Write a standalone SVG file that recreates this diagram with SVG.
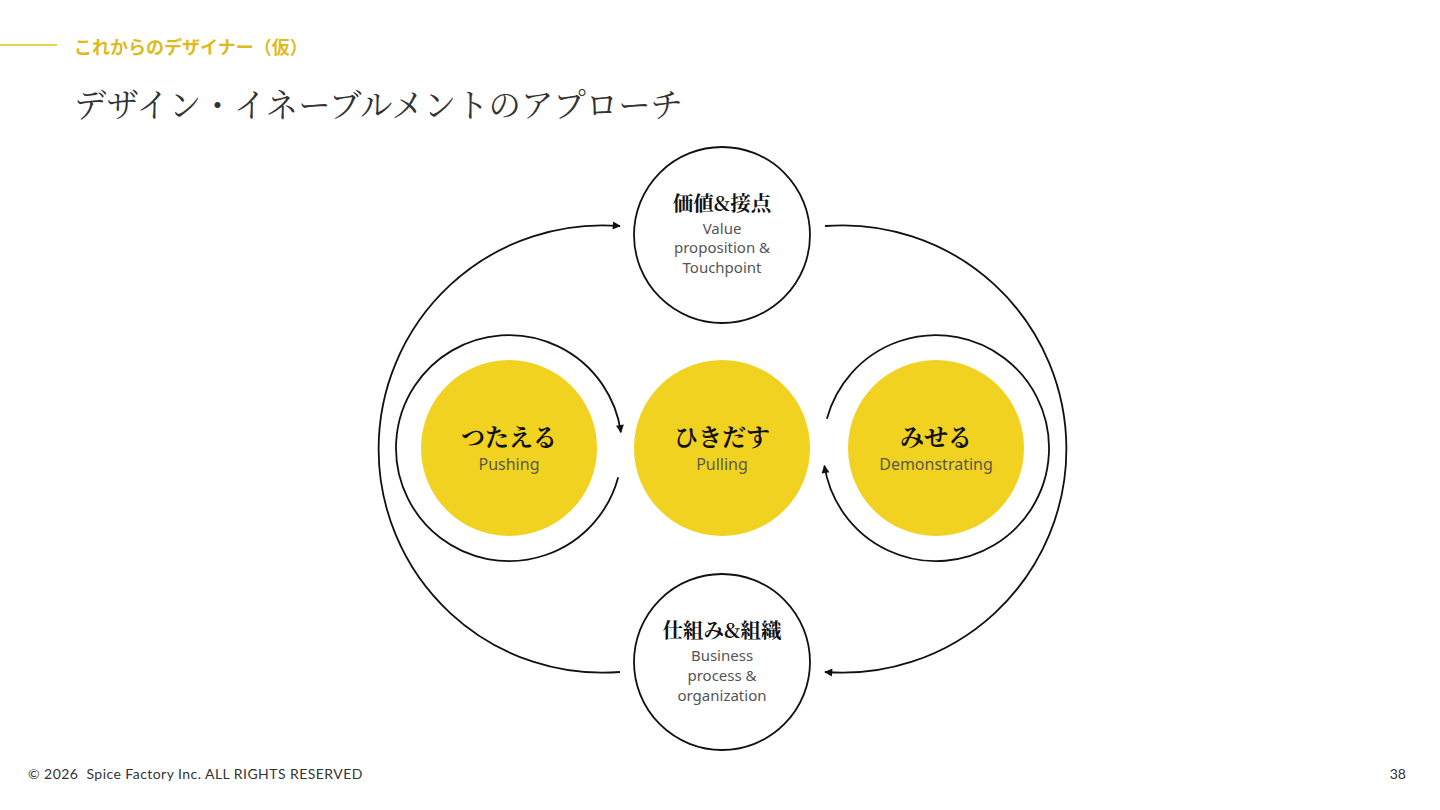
<svg xmlns="http://www.w3.org/2000/svg" width="1440" height="810" viewBox="0 0 1440 810">
<defs>
<style>
.jp{font-family:"Noto Serif CJK JP","Noto Sans CJK JP",serif;fill:#111;font-weight:700;text-anchor:middle}
.en{font-family:"Noto Sans","Open Sans",sans-serif;fill:#555;font-size:15px;text-anchor:middle}
.en2{font-family:"Noto Sans","Open Sans",sans-serif;fill:#5a5a4a;font-size:16px;text-anchor:middle}
.ring{fill:#fff;stroke:#111;stroke-width:1.8}
.sun{fill:#F1D220}
.arc{fill:none;stroke:#111;stroke-width:1.8;marker-end:url(#ah)}
</style>
<marker id="ah" viewBox="0 0 10 10" refX="9" refY="5" markerWidth="9" markerHeight="8" markerUnits="userSpaceOnUse" orient="auto">
<path d="M0,0 L10,5 L0,10 z" fill="#111"/>
</marker>
</defs>
<rect width="1440" height="810" fill="#fff"/>
<g id="header">
<line x1="0" y1="45" x2="57" y2="45" stroke="#E2C21E" stroke-width="1.5"/>
<text x="74" y="54" font-family="'Noto Sans CJK JP',sans-serif" font-size="18" font-weight="700" fill="#DDBB1C">これからのデザイナー（仮）</text>
<text x="74" y="117" font-family="'Noto Serif CJK JP','Noto Sans CJK JP',serif" font-size="32.4" fill="#333">デザイン・イネーブルメントのアプローチ</text>
</g>
<g id="connectors">
<path class="arc" d="M618.2,477.2 A113,113 0 1 1 620.9,432.3"/>
<path class="arc" d="M826.9,418.8 A113,113 0 1 1 824.4,465.7"/>
<path class="arc" d="M620,672 A223.7,223.7 0 1 1 620,226"/>
<path class="arc" d="M825,226 A223.7,223.7 0 1 1 825,672"/>
</g>
<g id="node-top">
<circle class="ring" cx="722" cy="235" r="88"/>
<text class="jp" x="722" y="211" font-size="20.5">価値&amp;接点</text>
<text class="en" x="722" y="234">Value</text>
<text class="en" x="722" y="253">proposition &amp;</text>
<text class="en" x="722" y="273">Touchpoint</text>
</g>
<g id="node-left">
<circle class="sun" cx="509" cy="448" r="88"/>
<text class="jp" x="509" y="446" font-size="24">つたえる</text>
<text class="en2" x="509" y="470">Pushing</text>
</g>
<g id="node-center">
<circle class="sun" cx="722" cy="448" r="88"/>
<text class="jp" x="722" y="446" font-size="24">ひきだす</text>
<text class="en2" x="722" y="470">Pulling</text>
</g>
<g id="node-right">
<circle class="sun" cx="936" cy="448" r="88"/>
<text class="jp" x="936" y="446" font-size="24">みせる</text>
<text class="en2" x="936" y="470">Demonstrating</text>
</g>
<g id="node-bottom">
<circle class="ring" cx="722" cy="662" r="88"/>
<text class="jp" x="722" y="638" font-size="20.5">仕組み&amp;組織</text>
<text class="en" x="722" y="661">Business</text>
<text class="en" x="722" y="681">process &amp;</text>
<text class="en" x="722" y="701">organization</text>
</g>
<g id="footer">
<text x="28" y="779" font-family="Lato,'Noto Sans',sans-serif" font-size="14" letter-spacing="0.45" fill="#333" xml:space="preserve">© 2026  Spice Factory Inc. ALL RIGHTS RESERVED</text>
<text x="1406" y="779" font-family="Lato,'Noto Sans',sans-serif" font-size="14" fill="#333" text-anchor="end">38</text>
</g>
</svg>
